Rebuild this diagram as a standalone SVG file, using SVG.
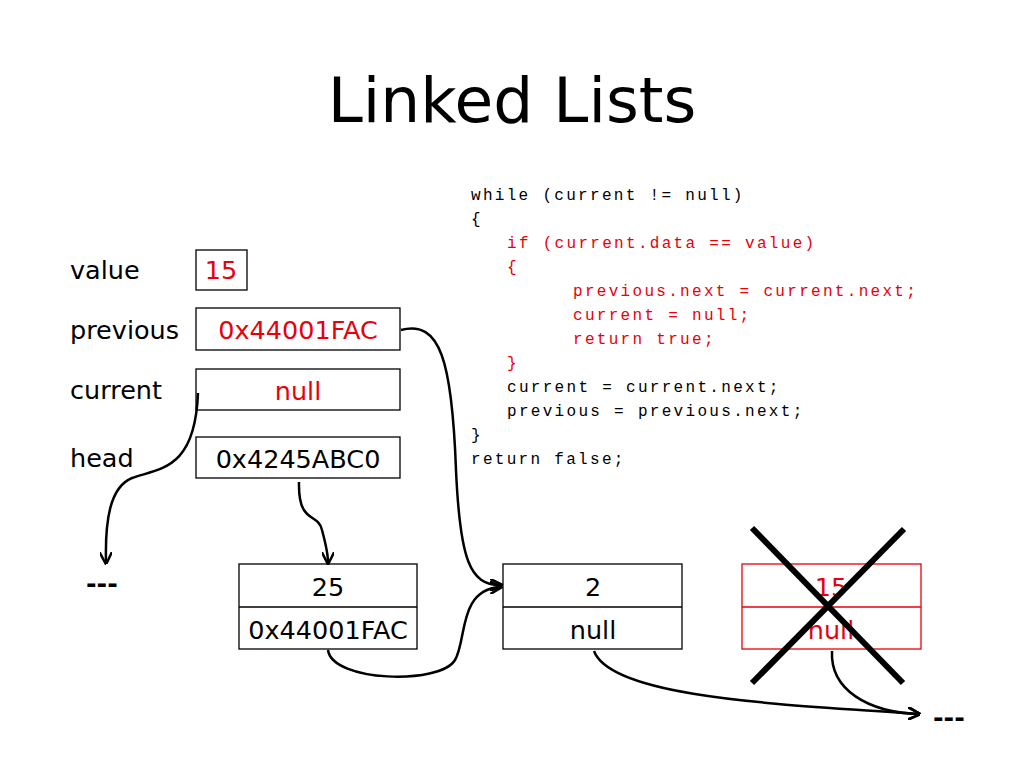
<svg xmlns="http://www.w3.org/2000/svg" width="1024" height="768" viewBox="0 0 1024 768">
<defs>
<style>
.t{font-family:"DejaVu Sans","Liberation Sans",sans-serif;font-size:25.5px;fill:#000}
.r{fill:#e8000b}
.b{fill:#fff;stroke:#000;stroke-width:1.3}
.rb{fill:#fff;stroke:#e8000b;stroke-width:1.3}
.c{font-family:"Liberation Mono",monospace;font-size:16px;letter-spacing:2.3px;fill:#000}
.cr{fill:#e8000b}
.k{fill:none;stroke:#000;stroke-width:2.5}
</style>
<marker id="a" viewBox="0 0 10 10" refX="8" refY="5" markerWidth="5" markerHeight="5" orient="auto"><path d="M0,0 L10,5 L0,10" fill="none" stroke="#000" stroke-width="2"/></marker>
</defs>
<rect width="1024" height="768" fill="#fff"/>
<text x="512" y="122" text-anchor="middle" font-family="DejaVu Sans,Liberation Sans,sans-serif" font-size="63">Linked Lists</text>
<g id="code">
<text class="c" x="471" y="200">while (current != null)</text>
<text class="c" x="471" y="224">{</text>
<text class="c cr" x="507" y="248">if (current.data == value)</text>
<text class="c cr" x="507" y="272">{</text>
<text class="c cr" x="573" y="296">previous.next = current.next;</text>
<text class="c cr" x="573" y="320">current = null;</text>
<text class="c cr" x="573" y="344">return true;</text>
<text class="c cr" x="507" y="368">}</text>
<text class="c" x="507" y="392">current = current.next;</text>
<text class="c" x="507" y="416">previous = previous.next;</text>
<text class="c" x="471" y="440">}</text>
<text class="c" x="471" y="464">return false;</text>
</g>
<g id="value"><text class="t" x="70" y="279">value</text><rect class="b" x="196" y="250" width="51" height="40"/><text class="t r" x="221" y="279" text-anchor="middle">15</text></g>
<g id="previous"><text class="t" x="70" y="339">previous</text><rect class="b" x="196" y="308" width="204" height="42"/><text class="t r" x="298" y="339" text-anchor="middle">0x44001FAC</text></g>
<g id="current"><text class="t" x="70" y="399">current</text><rect class="b" x="196" y="369" width="204" height="41"/><text class="t r" x="298" y="400" text-anchor="middle">null</text></g>
<g id="head"><text class="t" x="70" y="467">head</text><rect class="b" x="196" y="437" width="204" height="41"/><text class="t" x="298" y="468" text-anchor="middle">0x4245ABC0</text></g>
<g id="node25"><rect class="b" x="239" y="564" width="178" height="85"/><line x1="239" y1="607" x2="417" y2="607" stroke="#000" stroke-width="1.3"/><text class="t" x="328" y="596" text-anchor="middle">25</text><text class="t" x="328" y="639" text-anchor="middle">0x44001FAC</text></g>
<g id="node2"><rect class="b" x="503" y="564" width="179" height="85"/><line x1="503" y1="607" x2="682" y2="607" stroke="#000" stroke-width="1.3"/><text class="t" x="593" y="596" text-anchor="middle">2</text><text class="t" x="593" y="639" text-anchor="middle">null</text></g>
<g id="node15"><rect class="rb" x="742" y="564" width="179" height="85"/><line x1="742" y1="607" x2="921" y2="607" stroke="#e8000b" stroke-width="1.3"/><text class="t r" x="831" y="596" text-anchor="middle">15</text><text class="t r" x="831" y="639" text-anchor="middle">null</text>
<line x1="752" y1="528" x2="903" y2="683" stroke="#000" stroke-width="6"/><line x1="904" y1="529" x2="752" y2="683" stroke="#000" stroke-width="6"/></g>
<g id="end1"><text class="t" x="86" y="592" font-weight="bold">---</text></g>
<g id="end2"><text class="t" x="933" y="726" font-weight="bold">---</text></g>
<g id="connectors">
<path class="k" marker-end="url(#a)" d="M401,330 C440,320 452,360 456,470 C460,560 470,585 500,585"/>
<path class="k" marker-end="url(#a)" d="M198,393 C195,470 160,468 132,478 C110,487 105,520 106,562"/>
<path class="k" marker-end="url(#a)" d="M299,482 C298,525 318,512 322,530 C326,545 328,553 328,562"/>
<path class="k" marker-end="url(#a)" d="M328,650 C332,682 440,685 455,660 C467,640 458,590 500,587"/>
<path class="k" marker-end="url(#a)" d="M594,651 C612,700 800,705 918,714"/>
<path class="k" marker-end="url(#a)" d="M832,651 C830,690 868,712 918,714"/>
</g>
</svg>
